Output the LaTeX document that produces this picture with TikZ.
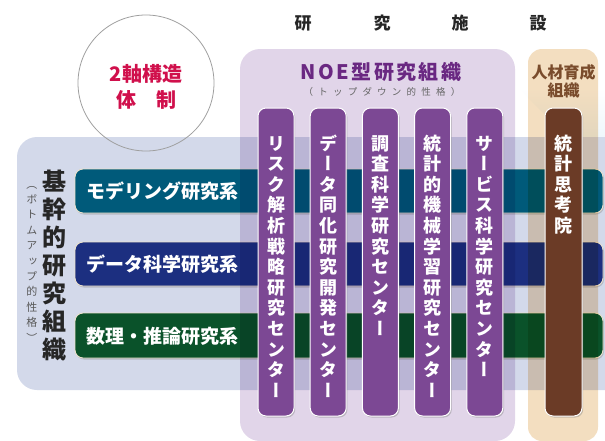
\documentclass[tikz,border=0pt]{standalone}
\usepackage{fontspec}
\setmainfont{Noto Sans CJK JP}
\newfontfamily\jpvert{Noto Sans CJK JP}[RawFeature=+vert]
\usetikzlibrary{shadows}

\definecolor{bandblue}{RGB}{211,217,234}
\definecolor{noepanel}{RGB}{225,213,233}
\definecolor{hrpanel}{RGB}{243,222,192}
\definecolor{noecol}{RGB}{124,72,148}
\definecolor{hrcol}{RGB}{107,59,38}
\definecolor{modelbar}{RGB}{0,90,122}
\definecolor{databar}{RGB}{28,47,128}
\definecolor{mathbar}{RGB}{10,82,42}
\definecolor{noetitle}{RGB}{106,40,130}
\definecolor{hrtitle}{RGB}{122,76,44}
\definecolor{axisred}{RGB}{208,16,76}
\definecolor{skyfade}{RGB}{226,241,250}
\definecolor{barrim}{RGB}{236,226,204}

% vertical text: one character per line
\def\tatetext#1#2{\vtop{\baselineskip=#1\lineskiplimit=-100pt\lineskip=0pt\expandafter\tatestep#2\relax}}
\def\tatestep#1{\ifx#1\relax\else\hbox to 1em{\hss#1\hss}\expandafter\tatestep\fi}

\begin{document}
\begin{tikzpicture}[x=1pt, y=-1pt,
  hbar/.style={draw=barrim, line width=0.9pt, rounded corners=8pt,
    drop shadow={shadow xshift=1pt, shadow yshift=-1.5pt, opacity=0.35}},
  vcol/.style={draw=white, line width=1pt, rounded corners=8pt,
    drop shadow={shadow xshift=1.2pt, shadow yshift=-1.5pt, opacity=0.4}},
  bartext/.style={anchor=base west, inner sep=0pt, text=white, font=\bfseries\fontsize{19}{19}\selectfont},
  coltext/.style={anchor=base, inner sep=0pt, text=white, font=\jpvert\bfseries\fontsize{18}{18}\selectfont}]
\useasboundingbox (0,0) rectangle (605,440);
\clip (0,0) rectangle (605,440);

\def \colone {276}
\def \colstep {52.2}
\def \coltop {108}
\def \colbottom {416}
\def \hrcenter {563.5}

%Corner shading
\shade[shading angle=135, top color=white, bottom color=skyfade, middle color=white] (430,0) -- (605,0) -- (605,175) -- cycle;

%Base organisation band
\fill[bandblue, rounded corners=20pt] (17,137) rectangle (640,390);

%Two axis circle
\draw[gray!75, line width=0.8pt] (146,83) circle[radius=68pt];
\node[anchor=base, inner sep=0pt, text=axisred, font=\bfseries\fontsize{20}{20}\selectfont] (axisone) at (146,81.6) {2軸構造};
\node[anchor=base, inner sep=0pt, text=axisred, font=\bfseries\fontsize{20}{20}\selectfont] (axistwo) at (146,107.6) {体　制};

%Research departments
\draw[hbar, fill=modelbar] (75,169) rectangle (603,213);
\node[bartext] (modeling) at (86,198) {モデリング研究系};
\draw[hbar, fill=databar] (75,242) rectangle (603,286);
\node[bartext] (datasci) at (86,271) {データ科学研究系};
\draw[hbar, fill=mathbar] (75,313) rectangle (603,358);
\node[bartext] (mathinf) at (86,343) {数理・推論研究系};

%NOE and training panels
\begin{scope}[blend mode=multiply]
\fill[noepanel, rounded corners=20pt] (240,49) rectangle (515,441);
\fill[hrpanel, rounded corners=14pt] (528,49) rectangle (598,441);
\end{scope}

%Titles
\foreach \ch/\x in {研/303, 究/382, 施/460, 設/538}
  \node[anchor=base, inner sep=0pt, text=black!85, font=\bfseries\fontsize{17}{17}\selectfont] (fac\x) at (\x,29.5) {\ch};
\node[anchor=base, inner sep=0pt, text=noetitle, font=\bfseries\fontsize{20}{20}\selectfont\addfontfeature{LetterSpace=12}] (noetitle) at (381,79.6) {NOE型研究組織};
\node[anchor=base, inner sep=0pt, text=black!60, font=\fontsize{9.5}{9.5}\selectfont\addfontfeature{LetterSpace=55}] (topdown) at (382,95.6) {（トップダウン的性格）};
\node[anchor=base, inner sep=0pt, text=hrtitle, font=\bfseries\fontsize{16}{16}\selectfont] (hrone) at (\hrcenter,78) {人材育成};
\node[anchor=base, inner sep=0pt, text=hrtitle, font=\bfseries\fontsize{16}{16}\selectfont] (hrtwo) at (\hrcenter,96) {組織};

%Base organisation label
\node[anchor=base, inner sep=0pt, text=black!85, font=\bfseries\fontsize{24}{24}\selectfont] (kikan) at (54,190) {\tatetext{28pt}{基幹的研究組織}};
\node[anchor=base, inner sep=0pt, text=black!65, font=\jpvert\fontsize{11}{11}\selectfont] (bottomup) at (32,188) {\tatetext{15.4pt}{（ボトムアップ的性格）}};

%NOE centers
\foreach \lbl [count=\i from 0] in {リスク解析戦略研究センター, データ同化研究開発センター, 調査科学研究センター, 統計的機械学習研究センター, サービス科学研究センター}{
  \draw[vcol, fill=noecol] ({\colone+\i*\colstep-18},\coltop) rectangle ({\colone+\i*\colstep+18},\colbottom);
  \node[coltext] (noe\i) at ({\colone+\i*\colstep},150) {\tatetext{20.6pt}{\lbl}};
}

%Training institute
\draw[vcol, fill=hrcol] (\hrcenter-18.5,\coltop) rectangle (\hrcenter+18.5,\colbottom);
\node[coltext] (shikouin) at (\hrcenter,150) {\tatetext{20.6pt}{統計思考院}};

\end{tikzpicture}
\end{document}
